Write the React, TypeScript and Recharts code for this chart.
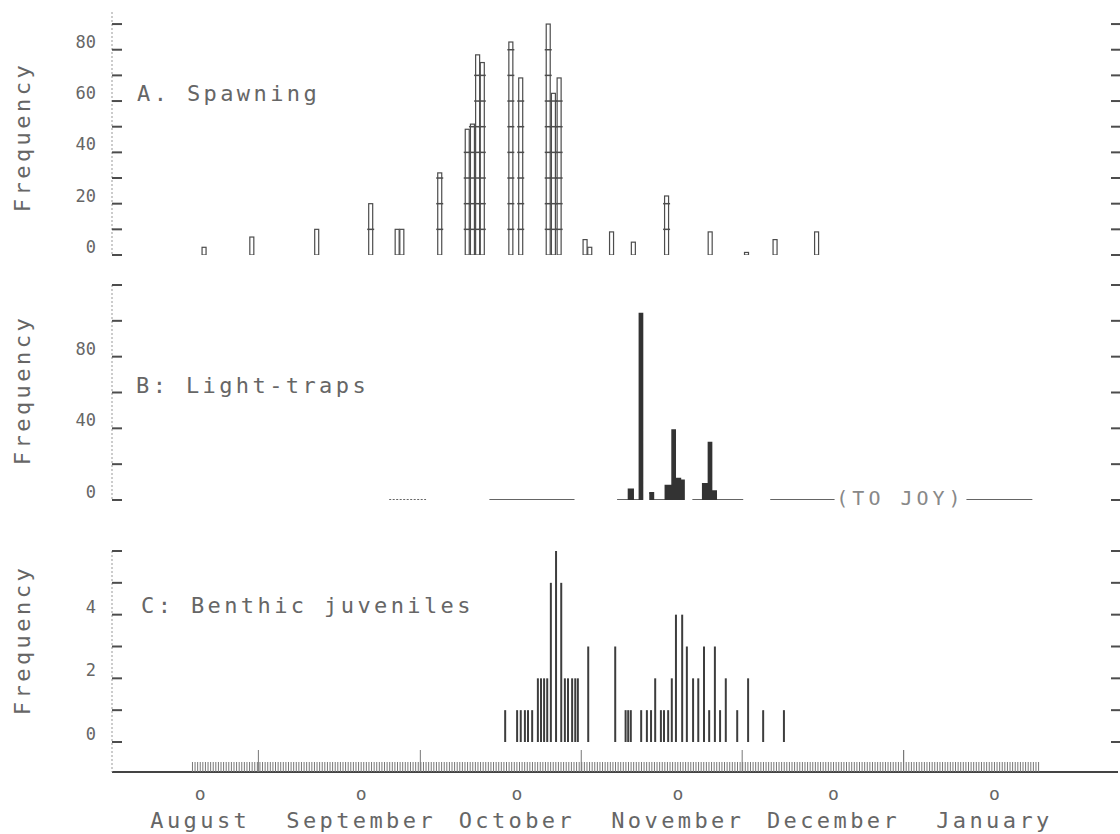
import React from "react";
import { ComposedChart, Bar, Area, Line, XAxis, YAxis, ReferenceDot } from "recharts";

const FONT = "'DejaVu Sans Mono', monospace";
const INK = "#4d4d4d";
const TEXT = "#666";

// x axis is days counted from 1 August
const X_DOMAIN: [number, number] = [-17, 176.8];
const MONTH_DAYS = [0, 31, 61, 92, 122, 153];
const MONTH_NAMES = ["August", "September", "October", "November", "December", "January"];
const MAJOR_TICKS = [11.2, 42.4, 73.4, 104.4, 135.5];
const MINOR_TICKS = Array.from({ length: 327 }, (_, i) => -1.5 + i * 0.5);

// A. Spawning
const spawnDays = [0.8, 10, 22.5, 32.9, 38, 38.9, 46.2, 51.5, 52.5, 53.5, 54.4, 59.9, 61.8, 67.1, 68.1, 69.2, 74.2, 75.1, 79.3, 83.5, 89.9, 98.3, 105.3, 110.8, 118.8];
const spawnCounts = [3, 7, 10, 20, 10, 10, 32, 49, 51, 78, 75, 83, 69, 90, 63, 69, 6, 3, 9, 5, 23, 9, 1, 6, 9];

// B. Light-traps (null = no sampling, dotted = partial sampling)
const trapDays = [55.7, 72.1, 76, 80.3, 82.5, 83.4, 84.6, 85.2, 85.8, 86.5, 87.3, 89.6, 90.9, 91.5, 92.5, 93.2, 94, 94.8, 96.8, 97.9, 98.5, 99.4, 104.6, 107, 109.8, 122.2, 135, 147.6, 160.3];
const trapCounts = [0, 0, null, 0, 6, 0, 104, 0, null, 4, 0, 8, 39, 12, 11, 0, null, 0, 9, 32, 5, 0, 0, null, 0, 0, null, 0, 0];
const trapDottedDays = [36.4, 43.5];
const TO_JOY_DAY = 134.9;

// C. Benthic juveniles
const juvDays = [58.8, 61.1, 61.8, 62.6, 63.2, 64.0, 65.1, 65.7, 66.3, 66.9, 67.6, 68.6, 69.6, 70.3, 70.9, 71.7, 72.3, 72.8, 74.8, 80.0, 82.0, 82.5, 83.0, 85.0, 86.1, 86.9, 87.7, 88.8, 89.4, 90.2, 90.9, 91.7, 92.9, 93.8, 95.0, 96.0, 97.1, 98.1, 99.2, 100.2, 101.3, 103.5, 105.6, 108.5, 112.5];
const juvCounts = [1, 1, 1, 1, 1, 1, 2, 2, 2, 2, 5, 6, 5, 2, 2, 2, 2, 2, 3, 3, 1, 1, 1, 1, 1, 1, 2, 1, 1, 1, 2, 4, 4, 3, 2, 2, 3, 1, 3, 1, 2, 1, 2, 1, 1];

const spawnData = spawnDays.map((d, i) => ({ day: d, count: spawnCounts[i] }));
const trapData = [
  ...trapDottedDays.map((d) => ({ day: d, dotted: 0 })),
  { day: 50, dotted: null, count: null },
  ...trapDays.map((d, i) => ({ day: d, count: trapCounts[i] })),
];
const juvData = juvDays.map((d, i) => ({ day: d, count: juvCounts[i] }));

const textStyle = { fontFamily: FONT, fill: TEXT };

const makeLeftTick = (labels: number[]) => (props: any) => {
  const { x, y, payload } = props;
  return (
    <g>
      <line x1={x} x2={x + 10} y1={y} y2={y} stroke={INK} strokeWidth={2} />
      {labels.includes(payload.value) && (
        <text x={x - 16} y={y - 8} textAnchor="end" dominantBaseline="central" fontSize={17} {...textStyle}>
          {payload.value}
        </text>
      )}
    </g>
  );
};

const RightTick = (props: any) => {
  const { x, y } = props;
  return <line x1={x - 7} x2={x + 2} y1={y} y2={y} stroke={INK} strokeWidth={2} />;
};

function BottomTick(props: any) {
  const { x, y, payload } = props;
  const v = payload.value;
  const m = MONTH_DAYS.indexOf(v);
  const major = MAJOR_TICKS.includes(v);
  return (
    <g>
      <line x1={x} x2={x} y1={y} y2={y - (major ? 22 : 10)} stroke="#777" strokeWidth={1} />
      {m >= 0 && (
        <>
          <text x={x} y={y + 21} textAnchor="middle" dominantBaseline="central" fontSize={18} {...textStyle}>o</text>
          <text x={x} y={y + 48} textAnchor="middle" dominantBaseline="central" fontSize={22} letterSpacing={3.4} {...textStyle}>
            {MONTH_NAMES[m]}
          </text>
        </>
      )}
    </g>
  );
}

function HollowBar(props: any) {
  const { x, y, width, height, payload } = props;
  if (!height || height <= 0) return null;
  const v = payload.count;
  const unit = height / v;
  const rungs: number[] = [];
  for (let k = 10; k < v; k += 10) rungs.push(y + height - k * unit);
  return (
    <g>
      <rect x={x} y={y} width={width} height={height} fill="#fff" stroke={INK} strokeWidth={1.2} />
      {rungs.map((ry, i) => (
        <line key={i} x1={x - 1.5} x2={x + width + 1.5} y1={ry} y2={ry} stroke={INK} strokeWidth={1.5} />
      ))}
    </g>
  );
}

function FreqLabel({ cy }: { cy: number }) {
  return (
    <text x={22} y={cy} transform={`rotate(-90 22 ${cy})`} textAnchor="middle" dominantBaseline="central" fontSize={22} letterSpacing={3.5} {...textStyle}>
      Frequency
    </text>
  );
}

function Title({ x, y, children }: { x: number; y: number; children: string }) {
  return (
    <text x={x} y={y} dominantBaseline="central" fontSize={22} letterSpacing={3.4} {...textStyle} style={{ whiteSpace: "pre" }}>
      {children}
    </text>
  );
}

const leftAxis = { stroke: "#999", strokeDasharray: "2 2" };

export default function App() {
  return (
    <div style={{ position: "absolute", left: 0, top: 0, width: 1120, height: 834, background: "#fff", overflow: "hidden" }}>
      {/* A. Spawning */}
      <div style={{ position: "absolute", left: 0, top: 0 }}>
        <ComposedChart width={1120} height={260} data={spawnData} margin={{ top: 12, right: 0, bottom: 5, left: 0 }}>
          <XAxis dataKey="day" type="number" domain={X_DOMAIN} allowDataOverflow orientation="top" height={0} tick={false} tickLine={false} axisLine={{ stroke: INK, strokeWidth: 2 }} />
          <YAxis yAxisId="l" type="number" domain={[0, 94.7]} allowDataOverflow width={112} ticks={[0, 10, 20, 30, 40, 50, 60, 70, 80, 90]} interval={0} tickSize={0} tickMargin={0} tickLine={false} axisLine={leftAxis} tick={makeLeftTick([0, 20, 40, 60, 80])} />
          <YAxis yAxisId="r" orientation="right" type="number" domain={[0, 94.7]} allowDataOverflow width={2} ticks={[0, 10, 20, 30, 40, 50, 60, 70, 80, 90]} interval={0} tickSize={0} tickMargin={0} tickLine={false} axisLine={false} tick={RightTick} />
          <Bar yAxisId="l" dataKey="count" barSize={4} shape={HollowBar} isAnimationActive={false} />
          <FreqLabel cy={137} />
          <Title x={137} y={93}>A. Spawning</Title>
        </ComposedChart>
      </div>

      {/* B. Light-traps */}
      <div style={{ position: "absolute", left: 0, top: 270 }}>
        <ComposedChart width={1120} height={250} data={trapData} margin={{ top: 15, right: 0, bottom: 20, left: 0 }}>
          <XAxis dataKey="day" type="number" domain={X_DOMAIN} allowDataOverflow hide />
          <YAxis yAxisId="l" type="number" domain={[0, 120]} allowDataOverflow width={112} ticks={[0, 20, 40, 60, 80, 100, 120]} interval={0} tickSize={0} tickMargin={0} tickLine={false} axisLine={leftAxis} tick={makeLeftTick([0, 40, 80])} />
          <YAxis yAxisId="r" orientation="right" type="number" domain={[0, 120]} allowDataOverflow width={2} ticks={[0, 20, 40, 60, 80, 100, 120]} interval={0} tickSize={0} tickMargin={0} tickLine={false} axisLine={false} tick={RightTick} />
          <Area yAxisId="l" type="stepAfter" dataKey="count" stroke="#333" strokeWidth={1.6} fill="#333" fillOpacity={1} connectNulls={false} dot={false} activeDot={false} isAnimationActive={false} />
          <Line yAxisId="l" type="linear" dataKey="dotted" stroke="#666" strokeWidth={2} strokeDasharray="2 1.5" connectNulls={false} dot={false} activeDot={false} isAnimationActive={false} />
          <ReferenceDot yAxisId="l" x={TO_JOY_DAY} y={1} r={0} fill="none" stroke="none" ifOverflow="visible" label={{ value: "(TO JOY)", position: "center", fontFamily: FONT, fontSize: 20, fill: "#888", letterSpacing: 4 }} />
          <FreqLabel cy={120} />
          <Title x={136} y={115}>B: Light-traps</Title>
        </ComposedChart>
      </div>

      {/* C. Benthic juveniles */}
      <div style={{ position: "absolute", left: 0, top: 530 }}>
        <ComposedChart width={1120} height={304} data={juvData} margin={{ top: 21, right: 0, bottom: 0, left: 0 }}>
          <XAxis dataKey="day" type="number" domain={X_DOMAIN} allowDataOverflow height={62} ticks={[...MINOR_TICKS, ...MAJOR_TICKS]} interval={0} tickSize={0} tickMargin={0} tickLine={false} axisLine={{ stroke: "#444", strokeWidth: 2 }} tick={BottomTick} />
          <YAxis yAxisId="l" type="number" domain={[-0.9425, 6]} allowDataOverflow width={112} ticks={[0, 1, 2, 3, 4, 5, 6]} interval={0} tickSize={0} tickMargin={0} tickLine={false} axisLine={leftAxis} tick={makeLeftTick([0, 2, 4])} />
          <YAxis yAxisId="r" orientation="right" type="number" domain={[-0.9425, 6]} allowDataOverflow width={2} ticks={[0, 1, 2, 3, 4, 5, 6]} interval={0} tickSize={0} tickMargin={0} tickLine={false} axisLine={false} tick={RightTick} />
          <Bar yAxisId="l" dataKey="count" barSize={2} fill="#3d3d3d" isAnimationActive={false} />
          <FreqLabel cy={110} />
          <Title x={141} y={75}>C: Benthic juveniles</Title>
        </ComposedChart>
      </div>
    </div>
  );
}
